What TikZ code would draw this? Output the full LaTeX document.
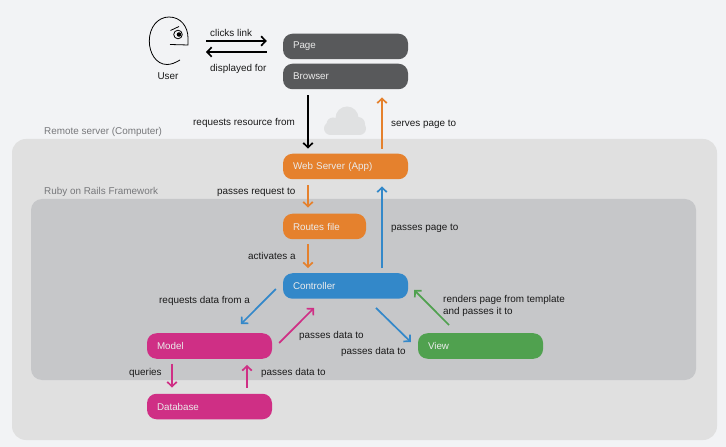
\documentclass[tikz,border=0pt]{standalone}
\usepackage{fontspec}
\setmainfont{Liberation Sans}
\usetikzlibrary{arrows.meta}
\definecolor{bgc}{HTML}{F2F3F5}
\definecolor{outerc}{HTML}{E0E0E0}
\definecolor{innerc}{HTML}{C6C7C9}
\definecolor{darkc}{HTML}{58595B}
\definecolor{orangec}{HTML}{E5812D}
\definecolor{bluec}{HTML}{3388C9}
\definecolor{pinkc}{HTML}{CF2F85}
\definecolor{greenc}{HTML}{50A14F}
\definecolor{cloudc}{HTML}{E0E1E2}
\definecolor{capc}{HTML}{77787B}
\definecolor{labc}{HTML}{1A1A1A}
\tikzset{
  box/.style={rectangle,rounded corners=9.5bp,minimum height=25.5bp,inner xsep=10bp,inner ysep=0pt,
    text width=105bp,align=left,text=white!92!black,font=\fontsize{9.8bp}{11bp}\selectfont},
  shortbox/.style={box,text width=63bp},
  lab/.style={anchor=base west,inner sep=0pt,text=labc,font=\fontsize{9.9bp}{12bp}\selectfont},
  caption/.style={lab,text=capc},
  arr/.style={line width=1.7bp,-{Straight Barb[length=4.5bp,width=9.5bp,line width=1.7bp]}},
}
\begin{document}
\begin{tikzpicture}[x=1bp,y=-1bp]
\useasboundingbox (0,0) rectangle (726,447);
\fill[bgc] (0,0) rectangle (726,447);
\fill[outerc,rounded corners=14bp] (12,139) rectangle (717,440);
\fill[innerc,rounded corners=11bp] (31,199) rectangle (696,380);

% cloud
\fill[cloudc,rounded corners=6.5bp] (324,122) rectangle (366,135);
\fill[cloudc] (347,118) circle (11.5);
\fill[cloudc] (333,124) circle (6.5);
\fill[cloudc] (358,124) circle (7);

% user
\draw[line width=0.8bp,black] (180,60) .. controls (175,63) and (171,64.5) .. (167,64.5)
  .. controls (156,64.5) and (149.3,53) .. (149.3,41)
  .. controls (149.3,27) and (158,17) .. (169,17)
  .. controls (181,17) and (188,27) .. (188,38)
  -- (188,45) -- (170,44.5);
\draw[line width=0.8bp] (170.5,30.5) -- (179,26.5);
\draw[line width=0.8bp] (178,34.5) circle (4.3);
\fill (179,34.5) circle (2.3);

\node[box,fill=darkc] (page) at (345.5,46.5) {Page};
\node[box,fill=darkc] (browser) at (345.5,76.5) {Browser};
\node[box,fill=orangec] (web) at (345.5,166.5) {Web Server (App)};
\node[shortbox,fill=orangec] (routes) at (324.5,226.5) {Routes file};
\node[box,fill=bluec] (controller) at (345.5,286) {Controller};
\node[box,fill=pinkc] (model) at (209.5,346) {Model};
\node[box,fill=greenc] (view) at (480.5,346) {View};
\node[box,fill=pinkc] (database) at (209.5,406.5) {Database};
\coordinate (face) at (188,46.5);

\draw[arr] ([shift={(18,-5.5)}]face) -- ([shift={(-16,-5.5)}]page.west);
\draw[arr] ([shift={(-16,5.5)}]page.west) -- ([shift={(18,5.5)}]face);
\draw[arr] ([shift={(-37.5,6)}]browser.south) -- ([shift={(-37.5,-5)}]web.north);
\draw[arr,orangec] ([shift={(36.5,-5)}]web.north) -- ([shift={(36.5,8)}]browser.south);
\draw[arr,orangec] ([shift={(-37.5,6)}]web.south) -- ([shift={(-16.5,-6)}]routes.north);
\draw[arr,orangec] ([shift={(-16.5,5)}]routes.south) -- ([shift={(-37.5,-5)}]controller.north);
\draw[arr,bluec] ([shift={(36.5,-5)}]controller.north) -- ([shift={(36.5,7)}]web.south);
\draw[arr,bluec] ([shift={(-7,3)}]controller.west) -- ([shift={(31.5,-9)}]model.north);
\draw[arr,pinkc] ([shift={(7,-3)}]model.east) -- ([shift={(-31.5,9)}]controller.south);
\draw[arr,bluec] ([shift={(30.5,9)}]controller.south) -- ([shift={(-7,-4)}]view.west);
\draw[arr,greenc] ([shift={(-31.5,-8)}]view.north) -- ([shift={(6,4)}]controller.east);
\draw[arr,pinkc] ([shift={(-37.5,5)}]model.south) -- ([shift={(-37.5,-6)}]database.north);
\draw[arr,pinkc] ([shift={(37.5,-6)}]database.north) -- ([shift={(37.5,6)}]model.south);

\node[lab,anchor=base] (userl) at (168,80) {User};
\node[lab] (l1) at (210,37) {clicks link};
\node[lab] (l2) at (210,72) {displayed for};
\node[lab] (l3) at (193,126) {requests resource from};
\node[lab] (l4) at (391,127) {serves page to};
\node[caption] (c1) at (44,135) {Remote server (Computer)};
\node[caption] (c2) at (44,195) {Ruby on Rails Framework};
\node[lab] (l5) at (217,195) {passes request to};
\node[lab] (l6) at (391,231) {passes page to};
\node[lab] (l7) at (248,260) {activates a};
\node[lab] (l8) at (159,304) {requests data from a};
\node[lab] (l9) at (299,339) {passes data to};
\node[lab] (l10) at (341,355) {passes data to};
\node[lab] (l11) at (443,303) {renders page from template};
\node[lab] (l12) at (443,315) {and passes it to};
\node[lab] (l13) at (129,375) {queries};
\node[lab] (l14) at (261,375) {passes data to};
\end{tikzpicture}
\end{document}
